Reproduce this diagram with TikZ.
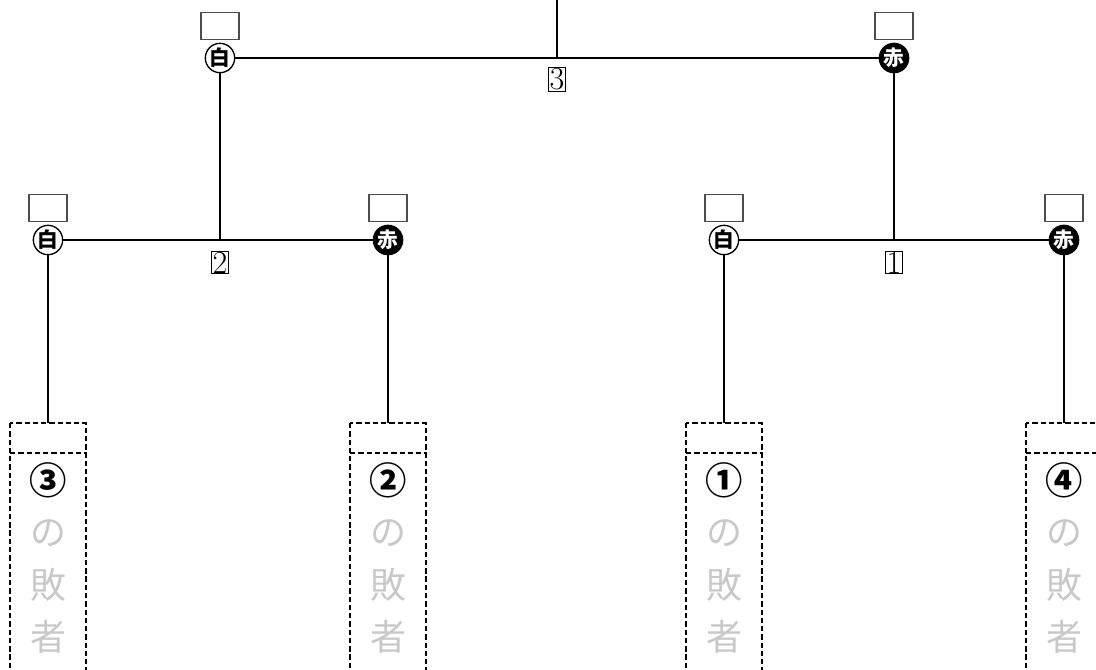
\documentclass[tikz,border=0pt]{standalone}
\usepackage{fontspec}
\newfontfamily\jp{Noto Sans CJK JP}
\usetikzlibrary{positioning}
\definecolor{losegray}{RGB}{200,200,200}

\begin{document}
\begin{tikzpicture}[x=0.75pt,y=-0.75pt,line width=1pt,
    shiro/.style={draw, circle, fill=white, inner sep=0pt, minimum size=22pt,
      font=\jp\bfseries\fontsize{15.5}{15.5}\selectfont},
    aka/.style={shiro, fill=black, text=white},
    score/.style={draw=black!70, line width=0.8pt, minimum width=28.5pt, minimum height=20pt},
    match/.style={draw, line width=0.6pt, inner sep=0.6pt, font=\fontsize{24}{24}\selectfont},
    seed/.style={font=\jp\bfseries\fontsize{28}{28}\selectfont},
    lose/.style={font=\jp\fontsize{27}{27}\selectfont, text=losegray},
    slot/.style={dash pattern=on 4pt off 2.2pt, line width=0.8pt}]
  \useasboundingbox (0,0) rectangle (1096,669);
  \clip (0,0) rectangle (1096,669);

  % final
  \coordinate (top) at (557,0);
  \node[shiro] (w3) at (220,58) {白};
  \node[aka] (r3) at (894,58) {赤};
  \node[score, above=2pt of w3] {};
  \node[score, above=2pt of r3] {};
  \draw (w3) -- (r3);
  \draw (top) -- (top |- w3);
  \node[match, below=7pt of top |- w3] (m3) {3};

  % first round
  \node[shiro] (w2) at (48,240) {白};
  \node[aka] (r2) at (388,240) {赤};
  \node[shiro] (w1) at (724,240) {白};
  \node[aka] (r1) at (1064,240) {赤};
  \foreach \c in {w2,r2,w1,r1}
    \node[score, above=2pt of \c] {};
  \draw (w2) -- (r2);
  \draw (w1) -- (r1);
  \draw (w3) -- (w3 |- w2);
  \draw (r3) -- (r3 |- r1);
  \node[match, below=8pt of w3 |- w2] (m2) {2};
  \node[match, below=8pt of r3 |- r1] (m1) {1};

  % losers' slots
  \foreach \c/\x/\k in {w2/48/③, r2/388/②, w1/724/①, r1/1064/④} {
    \draw[slot] (\x-38,423) rectangle (\x+38,700);
    \draw[slot] (\x-38,453) -- (\x+38,453);
    \coordinate (t\c) at (\x,423);
    \draw (\c) -- (t\c);
    \node[seed] at (\x,480) {\k};
    \node[lose] at (\x,533) {の};
    \node[lose] at (\x,585) {敗};
    \node[lose] at (\x,637) {者};
  }
\end{tikzpicture}
\end{document}
